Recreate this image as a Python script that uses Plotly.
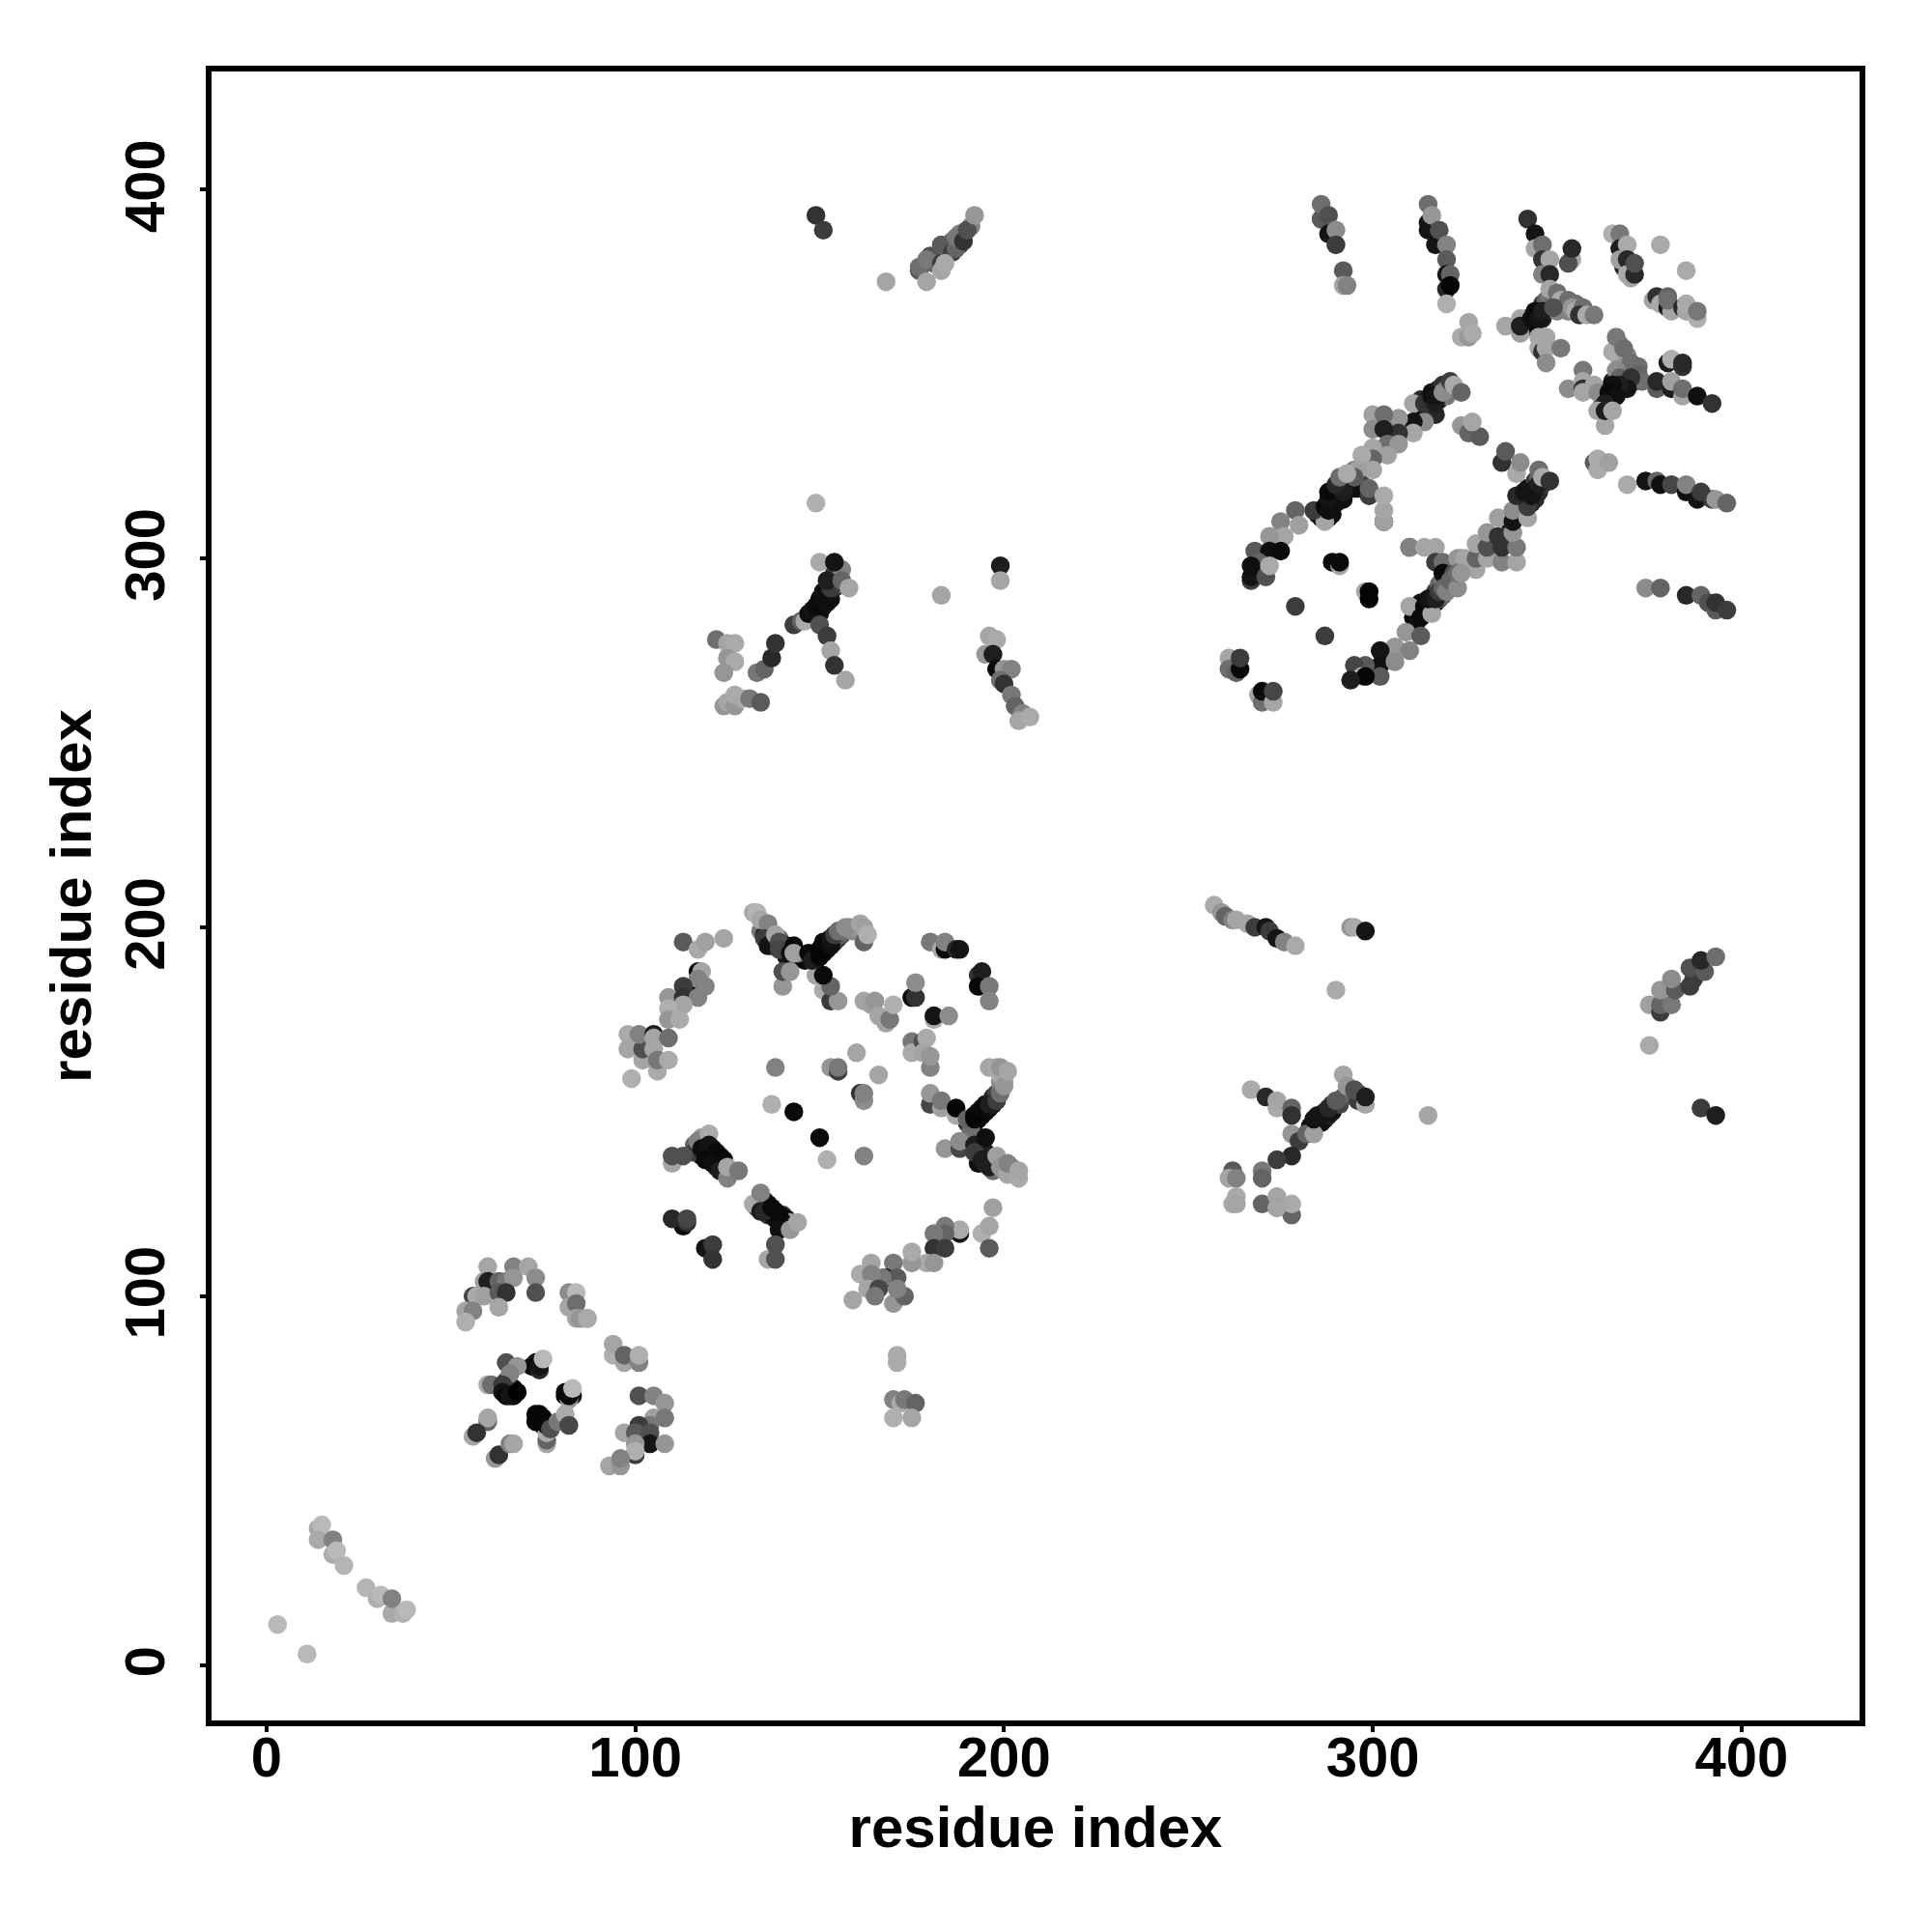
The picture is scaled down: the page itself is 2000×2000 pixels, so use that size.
import plotly.graph_objects as go

# contacts as (residue i, residue j, grey level of the point)
band_a = [(145,192,15),(146,191,10),(147,192,10),(148,192,5),(149,193,10),(149,191,20),(150,194,5),(151,193,10),(151,195,10),(152,194,10),(152,196,15),(153,196,30),(154,196,50),(155,197,60),(156,198,90),(156,199,110),(158,200,130),(159,199,140),(160,200,150),
 (134,199,120),(135,198,40),(136,197,30),(137,196,20),(137,195,60),(138,196,50),(139,197,100),(140,195,15),(140,194,30),(141,195,15),(141,192,20),(144,193,130)]
band_b = [(190,147,50),(191,146,20),(191,148,10),(192,147,5),(193,148,5),(193,150,10),(194,149,10),(195,150,10),(195,152,20),(196,151,15),(197,152,30),(197,154,40),(198,155,70),(199,156,110),(199,158,140),(200,158,150),(200,160,160),(199,160,170),(191,143,30),(192,144,20),(192,143,60),(193,138,40),(194,140,40),(195,139,30),(193,136,15),(195,136,50),(197,137,70),(197,134,110),(200,134,150),(202,135,150),(203,133,170),(191,145,110)]
band_c = [(118,138,10),(119,139,20),(119,141,10),(120,139,40),(120,137,15),(121,138,10),(121,140,10),(122,137,10),(122,135,30),(123,136,15),(123,138,40),(124,135,40),(118,143,150),(116,141,100),(116,139,60),
 (133,124,60),(134,125,140),(135,126,50),(136,125,20),(136,122,60),(137,122,20),(138,123,15),(138,121,15),(139,120,10),(140,122,40),(141,121,15),(141,119,40),(142,120,150)]
band_d = [(285,312,30),(286,313,50),(286,311,20),(287,312,10),(288,311,15),(289,314,15),(289,316,20),(289,312,15),(290,315,20),(290,317,30),(291,318,40),(291,316,10),(292,320,60),(292,316,15),(293,319,50),(293,321,100),(294,320,60),(294,322,120),(295,324,130),(296,321,40),(296,319,30),(297,320,60)]
band_e = [(311,284,10),(312,285,10),(312,283,15),(313,286,10),(313,288,20),(314,285,20),(315,286,30),(315,288,30),(316,287,40),(316,289,60),(317,288,30),(317,291,60),(318,289,80),(318,293,100),(319,290,100),(319,294,110),(320,293,130),(320,295,140),(321,292,110),(322,293,130),(322,298,160),
 (337,310,20),(340,315,30),(340,317,20),(341,314,30),(342,316,20),(342,319,15),(343,315,30),(343,319,20),(344,316,40),(344,321,60),(345,318,40),(345,322,100),(346,320,60),(347,321,80)]
band_f = [(313,340,30),(313,343,40),(314,341,15),(315,343,20),(315,341,20),(316,342,30),(316,345,20),(318,343,40),(318,346,30),(319,344,60),(319,347,50),(320,346,100),(320,344,120)]
band_g = [(342,363,20),(342,365,10),(343,363,15),(344,364,10),(344,366,15),(345,367,20),(346,365,30),(346,369,60),(347,367,40),(347,370,100),(348,368,50),(348,371,120),(349,370,110),(350,367,130),(350,369,100),(351,368,130),(352,369,120),(353,367,130),(355,369,110),(356,368,130)]
band_h = [(362,341,20),(363,343,15),(363,345,15),(364,344,10),(364,346,15),(365,345,10),(365,348,30),(366,346,15),(366,349,60),(366,348,40),(367,351,100),(368,348,40),(368,350,80),(368,353,120),(369,349,60),(369,351,90),(370,350,80),(371,351,100),(371,348,80),(372,352,110),(369,355,130),(367,354,150),(366,357,160),(367,358,130)]
band_i = [(65,74,5),(66,74,10),(67,73,5),(67,75,10),(64,75,30),(65,77,50),(73,82,10),(74,82,15),(73,68,5),(74,66,10),(75,66,5),(75,65,5),(75,67,10),(82,74,15),(81,73,5),(83,73,20)]
band_j = [(148,284,30),(150,285,15),(150,289,10),(151,287,15),(151,291,20),(153,289,15),(153,294,60),(152,291,10),(154,292,40),(154,296,60),(155,295,60),(155,293,100),(156,297,130)]
band_k = [(283,146,15),(284,146,20),(285,147,10),(285,149,30),(286,147,20),(287,148,15),(287,150,30),(288,149,30),(289,150,20),(289,152,60),(291,152,70),(292,154,80),(293,155,100),(296,155,70),(296,153,60),
 (180,382,80),(181,380,100),(185,384,50),(186,386,100),(188,385,60),(188,388,130),(191,390,130),(368,379,40),(369,379,130),(370,379,60)]

cluster_a = [(3,11,185),(11,3,185),(14,37,170),(15,38,185),(14,34,170),(18,34,130),(18,30,170),(19,31,185),(21,27,180),(27,21,180),(30,18,175),(31,19,185),(34,14,170),(34,18,130),(37,14,175),(38,15,185)]
cluster_b = [(60,108,165),(67,108,130),(71,108,165),(73,105,140),(73,101,80),(59,104,160),(60,104,30),(63,104,100),(65,104,120),(67,105,150),(56,100,70),(57,100,170),(59,100,160),(63,101,90),(65,101,50),(63,97,165),(54,96,165),(56,96,130),(54,93,175),
 (82,101,140),(84,101,185),(82,97,165),(84,98,110),(87,94,120),(84,94,165),(85,94,150),(87,94,170),(94,84,175),(94,87,165),(97,82,165),(97,84,100),(101,82,130),(101,84,175),
 (101,73,80),(105,73,130),(108,71,150),(105,67,160),(108,67,120),(97,63,165),(104,65,120),(101,65,60),(100,63,90),(104,63,80),(104,60,20),(108,60,150),(100,57,60),(100,60,150),(100,58,175),(93,54,165),(96,54,150),(96,56,130)]
cluster_c = [(65,82,80),(72,81,170),(72,81,10),(74,80,40),(74,81,20),(75,83,185),(68,81,150),(66,79,130),(60,76,170),(61,76,110),(64,76,60),(64,74,20),(65,73,10),(66,73,20),(68,74,0),(82,72,150),(81,74,10),(82,73,10),(83,75,185),(76,60,165),(76,61,100),(76,63,170),(74,68,5),(73,66,5),(76,65,10),(77,64,80),(79,66,120),(81,68,170),(82,65,70),
 (60,66,100),(60,67,165),(56,62,165),(57,63,50),(62,56,150),(63,57,50),(66,60,130),(67,60,165)]
cluster_d = [(113,196,90),(117,194,170),(119,196,160),(124,197,165),(117,188,10),(118,188,165),(116,184,15),(117,186,130),(119,184,130),(113,184,60),(109,181,150),(113,181,50),(117,181,130),(113,179,165),(109,178,175),(109,175,150),(112,175,170),
 (98,171,170),(98,167,165),(99,159,175),(102,164,165),(102,167,80),(101,171,130),(105,171,30),(105,170,165),(109,170,110),(105,167,165),(106,161,170),(106,164,120),(109,164,170)]
cluster_e = [(132,204,170),(133,204,180),(134,202,165),(136,201,130),(135,197,60),(136,195,20),(138,198,165),(139,196,80),(139,194,70),(143,195,10),(142,193,15),(143,193,160),(140,184,150),(140,188,80),(142,188,150),(149,187,165),(151,183,170),(153,180,60),(155,180,150),(153,184,100),(151,187,10),
 (147,193,10),(148,191,30),(150,192,10),(150,193,5),(151,196,10),(153,195,15),(153,197,20),(154,198,60),(155,199,110),(157,200,140),(161,201,165),(162,196,100),(162,200,160),(163,198,175)]
cluster_f = [(180,196,120),(183,194,170),(184,194,10),(184,196,130),(187,194,40),(188,194,20),(193,187,50),(194,188,30),(193,184,10),(196,184,120),(196,180,130),(175,181,170),(175,181,10),(176,181,50),(176,185,140),(181,175,170),(181,176,20),(185,176,140),
 (162,180,165),(164,179,160),(165,180,150),(166,176,165),(168,174,165),(169,175,120),(170,179,175),(175,169,120),(175,166,170),(178,169,80),(179,170,170),(178,166,165),(180,162,130),(180,165,150)]
cluster_g = [(138,162,130),(160,166,165),(153,162,150),(155,161,60),(155,162,120),(166,160,165),(161,155,50),(162,153,140),(162,155,130),(137,152,175),(143,150,10),(150,143,10),(152,137,175),(162,138,130)]
cluster_h = [(180,152,70),(180,155,150),(183,151,160),(183,153,120),(187,149,170),(187,151,5),(190,148,100),(192,148,10),(192,149,5),(194,151,10),(196,152,30),(198,153,60),(199,155,110),(200,157,150),(196,162,165),(198,162,170),(199,162,150),(201,161,165),
 (184,140,150),(188,140,70),(188,142,140),(192,141,30),(192,139,60),(195,143,15),(194,137,30),(196,135,30),(198,138,160),(199,135,150),(201,133,165),(201,136,130),(204,132,170),(204,134,165)]
cluster_i = [(110,136,165),(110,138,80),(113,138,80),(117,142,130),(120,144,170),(118,140,15),(120,141,20),(119,137,10),(122,139,10),(121,136,15),(124,137,10),(123,134,30),(125,132,130),(125,135,165),(128,134,120),
 (132,125,170),(134,128,130),(134,123,30),(135,123,40),(137,124,10),(139,122,10),(140,120,10),(139,118,15),(142,118,150),(144,120,165),(136,110,165),(138,110,80),(138,114,80),
 (113,119,10),(110,121,40),(114,120,50),(114,121,70),(119,113,20),(121,114,60),(121,110,50)]
cluster_j = [(197,124,160),(194,117,175),(196,119,165),(196,113,90),(188,117,20),(188,118,170),(184,119,120),(184,117,100),(181,117,120),(181,113,50),(184,113,60),(179,109,170),(181,109,150),(175,109,150),(175,112,170),(170,109,120),(168,105,30),(171,105,90),(167,105,120),(161,106,170),(164,109,165),(164,106,130),(163,102,165),(159,99,165),(166,102,70),(165,100,120),(170,98,150),(173,100,100),(171,102,130),
 (171,84,170),(171,82,170),(170,72,130),(172,71,170),(173,72,120),(176,71,100),(170,67,175),(175,67,165)]
cluster_k = [(149,393,50),(151,389,60),(168,375,165),(177,378,90),(177,379,110),(179,375,165),(179,381,120),(183,385,90),(183,380,60),(183,378,165),(186,383,60),(184,380,170),(187,384,100),(187,387,120),(189,386,50),(190,389,80),(192,393,150)]
cluster_l = [(286,392,170),(286,392,90),(286,396,110),(288,393,80),(288,388,20),(290,389,140),(290,385,60),(292,378,90),(292,374,165),(293,374,130),
 (315,389,20),(315,391,20),(315,396,110),(316,393,150),(317,385,20),(318,389,80),(320,385,130),(320,381,90),(320,377,20),(321,377,100),(320,373,40),(321,374,5),(320,369,175),(324,360,170),(326,360,150),(326,364,165),(327,361,170)]
cluster_m = [(342,392,50),(344,388,20),(344,384,165),(346,385,110),(346,381,50),(348,381,165),(346,377,130),(348,377,40),(354,381,170),(353,380,80),(354,384,40),
 (348,373,165),(350,372,110),(351,370,170),(353,370,110),(354,368,150),(355,367,170),(357,368,110),(356,366,50),(358,366,170),(360,366,120),
 (336,363,165),(340,365,165),(340,361,160),(340,363,30),(343,365,15),(344,367,10),(345,365,20),(346,367,30),(349,368,80),
 (345,360,165),(347,360,165),(345,357,170),(346,356,50),(347,357,165),(351,357,120),(347,353,140)]
cluster_n = [(365,388,175),(367,388,120),(367,384,30),(369,385,170),(367,381,160),(369,381,40),(369,377,170),(370,376,165),(371,377,40),(371,380,80),(378,385,170),(385,378,170),
 (376,370,165),(377,371,50),(378,369,170),(380,368,20),(381,367,165),(380,371,100),(380,370,110),(384,368,40),(385,367,165),(385,369,170),(388,365,175),(388,367,120)]
cluster_o = [(357,351,120),(353,346,140),(357,348,165),(357,346,50),(357,345,165),(360,347,165),(361,345,140),
 (365,356,170),(366,360,120),(368,357,110),(370,353,110),(366,351,140),(372,350,100),(373,348,110),(367,349,100),(370,349,50),(369,346,20),(367,347,30),(365,347,15),(364,345,10),(366,344,15),(363,342,30),(361,340,165),(363,336,165),(363,340,30),(365,340,165),
 (380,353,30),(381,354,175),(384,352,50),(384,353,40),(377,346,90),(377,348,40),(381,346,30),(381,348,160),(384,344,165),(384,346,110),(388,344,15),(392,342,50)]
cluster_p = [(369,320,170),(374,321,20),(377,321,100),(378,320,15),(381,320,70),(385,318,15),(385,320,130),(388,316,20),(389,318,60),(392,316,60),(393,316,150),(396,315,100),
 (360,326,90),(361,324,170),(361,327,170),(364,326,160),(374,292,140),(378,292,100),(385,290,40),(389,290,100),(391,288,80),(393,286,90),(393,288,50),(396,286,60)]
cluster_q = [(317,339,40),(314,337,140),(311,342,165),(311,337,20),(311,334,165),(307,338,150),(307,334,50),(300,339,160),(303,339,110),(300,335,140),(303,335,30),(304,331,110),(307,331,150),(304,328,160),(300,330,165),(300,327,100),(297,328,170),(300,324,165),(296,324,160),(295,319,15),(295,322,90),(299,317,60),(299,319,100),(303,310,10),(303,310,160),(303,313,165),(303,317,170),
 (314,342,50),(316,344,15),(317,342,30),(317,344,20),(319,345,140),(321,348,60),(322,347,170),(324,345,100),
 (324,336,150),(326,334,100),(329,333,90),(327,337,165)]
cluster_r = [(287,310,165),(284,313,60),(287,314,10),(288,313,15),(288,316,20),(288,318,10),(292,318,30),(290,320,40),(291,322,110),(293,323,170),
 (279,313,100),(280,309,160),(275,310,130),(276,306,165),(272,306,150),(268,302,90),(272,302,15),(275,302,10),(269,299,100),(267,294,60),(267,295,20),(267,298,15),(271,295,80),(272,298,170),
 (289,299,10),(291,298,165),(291,299,10),(298,291,165),(299,289,5),(299,291,5),(279,287,60),(287,279,60)]
cluster_s = [(310,303,60),(310,303,130),(314,303,165),(317,303,165),(317,299,60),(319,299,110),(319,296,10),(322,296,80),(324,300,140),(323,300,150),(325,300,165),(328,297,165),(328,300,100),(328,304,165),(331,300,165),(331,303,80),(331,307,150),(335,299,130),(334,306,50),(335,303,50),(339,299,165),(339,303,120),(338,307,150),(334,311,160),(338,310,20),(338,313,140),(342,311,165),(342,314,60),(339,317,40),(341,318,20),(343,317,20),(344,319,20),(345,320,30),(345,324,110),(346,322,170),(348,321,50),(339,323,170),(340,326,140),(335,326,50),(336,329,90),
 (310,287,165),(313,284,10),(314,287,10),(316,285,165),(315,289,20),(317,289,30),(318,291,60),(319,292,100),(320,291,130),(321,294,100),(323,292,140),(323,296,110),(324,296,150),
 (309,280,150),(313,279,90),(306,276,150),(310,275,130),(302,275,20),(302,271,15),(306,272,140),(302,268,90),(298,271,90),(295,271,70),(297,268,170),(298,268,5),(294,267,30),
 (261,273,165),(261,270,110),(263,269,100),(264,270,10),(264,273,60),(269,263,165),(270,261,110),(270,264,10),(273,261,165),(273,264,70)]
cluster_t = [(122,278,110),(125,277,165),(127,277,170),(125,273,150),(127,272,170),(124,269,150),(124,260,150),(125,261,165),(127,260,150),(127,263,170),(129,262,170),(131,262,120),(134,261,90),(133,269,120),(135,270,100),(137,273,40),(138,277,50),(149,315,175),
 (143,282,60),(145,283,100),(146,283,170),(147,285,15),(148,286,20),(149,287,10),(150,282,80),(151,289,15),(152,288,15),(153,292,60),(152,294,30),(150,299,170),(154,299,20),(156,294,100),(158,292,165),(152,279,60),(153,275,165),(154,271,50),(157,267,165),
 (183,290,165),(199,298,30),(199,294,165),(196,279,165),(198,278,170),(195,274,150),(197,274,30),(198,270,10),(200,270,150),(202,270,130),(199,267,110),(200,266,50),(202,263,120),(203,260,100),(205,258,130),(204,256,165),(207,257,170)]
cluster_u = [(257,206,170),(259,204,150),(260,203,100),(262,202,130),(263,202,165),(266,201,165),(268,200,60),(271,200,20),(272,199,60),(274,197,20),(276,196,130),(279,195,170),(294,200,150),(295,200,170),(298,199,20),(290,183,170),
 (267,156,170),(271,154,40),(274,151,170),(274,153,165),(278,151,100),(278,149,50),(278,144,150),(280,142,60),(282,144,100),(284,144,160),(284,148,20),(286,149,20),(288,151,40),(290,153,90),(292,160,165),(293,157,150),(298,152,165),(295,156,80),(298,154,30),(315,149,165),
 (278,138,40),(274,137,60),(270,134,120),(270,132,100),(262,134,90),(261,132,165),(263,132,130),(263,127,170),(262,125,170),(263,125,165),(270,125,100),(274,127,165),(274,124,120),(278,122,100),(278,125,170),(274,124,165)]
cluster_v = [(375,168,170),(375,179,160),(378,177,60),(378,179,100),(381,179,120),(378,183,150),(382,183,90),(381,186,140),(386,184,60),(387,186,60),(386,189,80),(390,188,90),(389,191,40),(393,192,110),(389,151,60),(393,149,30)]

clusters = [band_a, band_b, band_c, band_d, band_e, band_f, band_g, band_h, band_i, band_j, band_k,
            cluster_a, cluster_b, cluster_c, cluster_d, cluster_e, cluster_f, cluster_g, cluster_h, cluster_i, cluster_j, cluster_k,
            cluster_l, cluster_m, cluster_n, cluster_o, cluster_p, cluster_q, cluster_r, cluster_s, cluster_t, cluster_u, cluster_v]
tick_values = [0, 100, 200, 300, 400]
axis_label = "residue index"

points = [p for c in clusters for p in c]
fig = go.Figure(go.Scatter(
    x=[p[0] for p in points], y=[p[1] for p in points], mode="markers",
    marker=dict(size=19.5, color=[f"rgb({p[2]},{p[2]},{p[2]})" for p in points], line=dict(width=0)),
    hoverinfo="skip", showlegend=False))

font = dict(family="Liberation Sans", size=58, color="black", weight="bold")
axis = dict(showgrid=False, zeroline=False, showline=True, mirror=True, linewidth=6, linecolor="black",
            ticks="outside", ticklen=6, tickwidth=4, tickcolor="black", tickvals=tick_values, tickfont=font)
fig.update_layout(
    width=2000, height=2000, autosize=False, paper_bgcolor="white", plot_bgcolor="white",
    margin=dict(l=211, r=83, t=66, b=227),
    xaxis=dict(range=[-14.9, 432.0], ticklabelstandoff=-24, title=dict(text=axis_label, font=dict(font, size=60), standoff=22), **axis),
    yaxis=dict(range=[-15.0, 432.0], tickangle=-90, ticklabelstandoff=14, ticklabelshift=5, title=dict(text=axis_label, font=dict(font, size=60), standoff=5), **axis),
)
fig.write_html("out.html")
